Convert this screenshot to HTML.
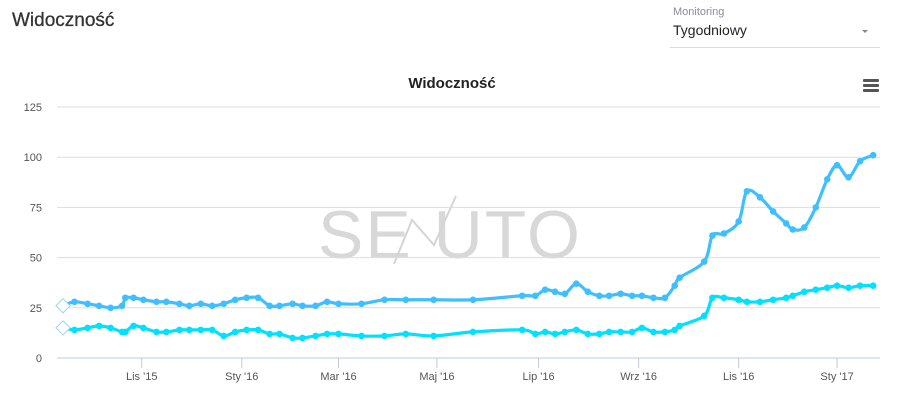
<!DOCTYPE html>
<html><head><meta charset="utf-8"><style>
body{margin:0;width:898px;height:401px;background:#fff;font-family:"Liberation Sans",sans-serif;overflow:hidden;position:relative}
.h{position:absolute;left:12px;top:10px;font-size:19px;color:#333;-webkit-text-stroke:0.3px #333}
.mon{position:absolute;left:673px;top:6px;font-size:11px;color:#8a8aa0}
.sel{position:absolute;left:673px;top:22px;font-size:14px;color:#222}
.line{position:absolute;left:670px;top:47px;width:210px;height:1px;background:#ddd}
.caret{position:absolute;left:862px;top:30px;width:0;height:0;border-left:3px solid transparent;border-right:3px solid transparent;border-top:3px solid #888}
</style></head><body>
<div class="h">Widoczność</div>
<div class="mon">Monitoring</div>
<div class="sel">Tygodniowy</div>
<div class="caret"></div>
<div class="line"></div>
<svg id="c" width="898" height="401" style="position:absolute;left:0;top:0">
<text x="452" y="88" text-anchor="middle" font-size="15" font-weight="bold" fill="#222">Widoczność</text>
<g fill="#555"><rect x="863" y="79" width="16" height="3" rx="1"/><rect x="863" y="84" width="16" height="3" rx="1"/><rect x="863" y="89" width="16" height="3" rx="1"/></g>
<text x="450" y="258" text-anchor="middle" font-size="68" fill="#d8d8d8" letter-spacing="2">SE  UTO</text>
<polyline points="394,264 412,220 434,245 456,196" fill="none" stroke="#d4d4d4" stroke-width="2"/>
<g id="g"></g>
</svg>
<script>
const yTicks=[0,25,50,75,100,125];
const xTickLabels=["Lis '15","Sty '16","Mar '16","Maj '16","Lip '16","Wrz '16","Lis '16","Sty '17"];
const xTickDays=[48,109,168,228,290,351,412,472];
const days=[0,7,15,22,29,36,38,43,49,57,63,71,77,84,91,98,105,112,119,126,132,140,146,154,161,168,182,196,209,226,250,280,288,294,300,306,313,320,327,333,340,347,353,360,367,373,376,391,396,403,412,417,425,433,441,445,452,459,466,472,479,486,494];
const upper=[26,28,27,26,25,26,30,30,29,28,28,27,26,27,26,27,29,30,30,26,26,27,26,26,28,27,27,29,29,29,29,31,31,34,33,32,37,33,31,31,32,31,31,30,30,36,40,48,61,62,68,83,80,73,67,64,65,75,89,96,90,98,101];
const lower=[15,14,15,16,15,13,13,16,15,13,13,14,14,14,14,11,13,14,14,12,12,10,10,11,12,12,11,11,12,11,13,14,12,13,12,13,14,12,12,13,13,13,15,13,13,14,16,21,30,30,29,28,28,29,30,31,33,34,35,36,35,36,36];
const NS='http://www.w3.org/2000/svg';
const g=document.getElementById('g');
const X=d=>63+d*1.64, Y=v=>358-v*2.008;
function mk(t,a){const e=document.createElementNS(NS,t);for(const k in a)e.setAttribute(k,a[k]);g.appendChild(e);return e;}
yTicks.forEach(v=>{
 const l=mk('line',{x1:57,x2:880,y1:Y(v),y2:Y(v),stroke:v===0?'#c0cad8':'#ddd','stroke-width':1});
 
 
 const t=mk('text',{x:42,y:Y(v)+4,'text-anchor':'end','font-size':11,fill:'#555'});t.textContent=v;
 
 
});
xTickDays.forEach((d,i)=>{
 const l=mk('line',{x1:X(d),x2:X(d),y1:358,y2:368,stroke:'#c0cad8'});
 
 
 const t=mk('text',{x:X(d),y:380,'text-anchor':'middle','font-size':11,fill:'#555'});t.textContent=xTickLabels[i];
 
 
});
function path(vals){
 const p=days.map((d,i)=>[X(d),Y(vals[i])]);
 let s='M'+p[0][0]+','+p[0][1];
 for(let i=0;i<p.length-1;i++){
  const p0=p[i-1]||p[i],p1=p[i],p2=p[i+1],p3=p[i+2]||p2;
  const c1=[p1[0]+(p2[0]-p0[0])/6,p1[1]+(p2[1]-p0[1])/6],c2=[p2[0]-(p3[0]-p1[0])/6,p2[1]-(p3[1]-p1[1])/6];
  s+=' C'+c1+' '+c2+' '+p2;
 }
 return s;
}
[[upper,'#3fbfff','upper-series'],[lower,'#00e0ff','lower-series']].forEach(([vals,col,name])=>{
 const pa=mk('path',{d:path(vals),fill:'none',stroke:col,'stroke-width':3.2});
 
 
 vals.forEach((v,i)=>{
  const c=mk('circle',{cx:X(days[i]),cy:Y(v),r:3.3,fill:col});
  
  
 });
 const f=mk('rect',{x:X(0)-5,y:Y(vals[0])-5,width:10,height:10,fill:'#fff',stroke:'#9ad4f5',transform:`rotate(45 ${X(0)} ${Y(vals[0])})`});
 
 
});
</script>
</body></html>
